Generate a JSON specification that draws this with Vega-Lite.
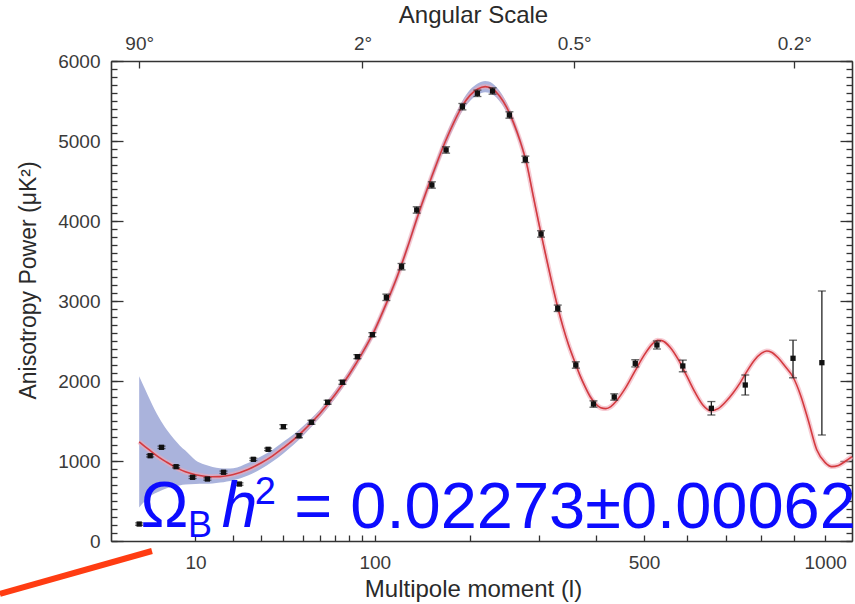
{
"$schema":"https://vega.github.io/schema/vega-lite/v6.json",
"width":741,"height":480,
"autosize":{"type":"none"},
"padding":{"left":111,"top":61,"right":3,"bottom":63},
"background":"white",
"config":{
 "view":{"stroke":null},
 "font":"Liberation Sans",
 "axis":{"grid":false,"domainColor":"#333333","domainWidth":1.6,"tickColor":"#333333","tickWidth":1.3,"labelColor":"#3a3a3a","labelFont":"Liberation Sans","labelFontSize":19,"titleFont":"Liberation Sans","titleFontSize":24,"titleFontWeight":"normal","titleColor":"#2a2a2a","labelFlush":false,"labelOverlap":false}
},
"datasets":{
 "band":[
  {"l":2,"lo":420,"hi":2060},{"l":2.5,"lo":500,"hi":1900},{"l":3,"lo":560,"hi":1760},{"l":4,"lo":620,"hi":1540},{"l":5,"lo":660,"hi":1390},{"l":6,"lo":680,"hi":1280},{"l":7,"lo":695,"hi":1195},{"l":8,"lo":705,"hi":1130},{"l":10,"lo":712,"hi":1010},{"l":12,"lo":715,"hi":955},{"l":14,"lo":720,"hi":925},{"l":16,"lo":730,"hi":910},{"l":18,"lo":745,"hi":905},{"l":20,"lo":760,"hi":910},{"l":25,"lo":820,"hi":975},{"l":30,"lo":900,"hi":1055},{"l":35,"lo":995,"hi":1140},{"l":40,"lo":1095,"hi":1240},{"l":45,"lo":1200,"hi":1330},{"l":50,"lo":1310,"hi":1430},{"l":60,"lo":1540,"hi":1640},{"l":70,"lo":1780,"hi":1880},{"l":80,"lo":2035,"hi":2135},{"l":90,"lo":2305,"hi":2405},{"l":100,"lo":2590,"hi":2690},
  {"l":110,"lo":2920,"hi":3020},{"l":120,"lo":3260,"hi":3360},{"l":130,"lo":3630,"hi":3730},{"l":140,"lo":4005,"hi":4115},{"l":150,"lo":4345,"hi":4455},{"l":160,"lo":4650,"hi":4770},{"l":170,"lo":4925,"hi":5055},{"l":180,"lo":5165,"hi":5295},{"l":190,"lo":5365,"hi":5495},{"l":200,"lo":5500,"hi":5640},{"l":210,"lo":5580,"hi":5720},{"l":220,"lo":5610,"hi":5750},{"l":230,"lo":5580,"hi":5720},{"l":240,"lo":5495,"hi":5625},{"l":250,"lo":5360,"hi":5480},{"l":260,"lo":5175,"hi":5285},{"l":270,"lo":4950,"hi":5050},{"l":280,"lo":4670,"hi":4770},{"l":290,"lo":4285,"hi":4375},{"l":300,"lo":3910,"hi":3990},{"l":320,"lo":3225,"hi":3295},{"l":340,"lo":2650,"hi":2710},{"l":360,"lo":2235,"hi":2285},{"l":380,"lo":1910,"hi":1950},{"l":400,"lo":1700,"hi":1730}
 ],
 "theory":[
  {"l":2,"cl":1240},{"l":2.5,"cl":1180},{"l":3,"cl":1130},{"l":4,"cl":1045},{"l":5,"cl":985},{"l":6,"cl":935},{"l":7,"cl":895},{"l":8,"cl":865},{"l":10,"cl":828},{"l":12,"cl":810},{"l":14,"cl":803},{"l":16,"cl":805},{"l":18,"cl":815},{"l":20,"cl":832},{"l":25,"cl":895},{"l":30,"cl":975},{"l":35,"cl":1065},{"l":40,"cl":1165},{"l":45,"cl":1265},{"l":50,"cl":1370},{"l":60,"cl":1590},{"l":70,"cl":1830},{"l":80,"cl":2085},{"l":90,"cl":2355},{"l":100,"cl":2640},{"l":110,"cl":2970},{"l":120,"cl":3310},{"l":130,"cl":3680},{"l":140,"cl":4060},{"l":150,"cl":4400},{"l":160,"cl":4710},{"l":170,"cl":4990},{"l":180,"cl":5230},{"l":190,"cl":5430},{"l":200,"cl":5570},{"l":210,"cl":5650},{"l":220,"cl":5680},{"l":230,"cl":5650},{"l":240,"cl":5560},{"l":250,"cl":5420},{"l":260,"cl":5230},{"l":270,"cl":5000},{"l":280,"cl":4720},{"l":290,"cl":4330},{"l":300,"cl":3950},{"l":310,"cl":3600},{"l":320,"cl":3260},{"l":330,"cl":2950},{"l":340,"cl":2680},{"l":350,"cl":2450},{"l":360,"cl":2260},{"l":370,"cl":2080},{"l":380,"cl":1930},{"l":390,"cl":1800},{"l":400,"cl":1715},{"l":410,"cl":1665},{"l":420,"cl":1655},{"l":430,"cl":1680},{"l":440,"cl":1740},{"l":450,"cl":1820},{"l":460,"cl":1910},{"l":480,"cl":2120},{"l":500,"cl":2320},{"l":520,"cl":2470},{"l":530,"cl":2510},{"l":540,"cl":2505},{"l":560,"cl":2420},{"l":580,"cl":2260},{"l":600,"cl":2060},{"l":620,"cl":1860},{"l":640,"cl":1700},{"l":660,"cl":1628},{"l":680,"cl":1655},{"l":700,"cl":1740},{"l":720,"cl":1850},{"l":740,"cl":1980},{"l":760,"cl":2130},{"l":780,"cl":2260},{"l":800,"cl":2345},{"l":816,"cl":2375},{"l":830,"cl":2360},{"l":850,"cl":2290},{"l":870,"cl":2190},{"l":896,"cl":2050},{"l":920,"cl":1820},{"l":945,"cl":1500},{"l":972,"cl":1140},{"l":1000,"cl":980},{"l":1022,"cl":930},{"l":1045,"cl":945},{"l":1070,"cl":1000},{"l":1092,"cl":1055}
 ],
 "wmap":[
  {"l":2,"v":212,"lo":197,"hi":227},{"l":3,"v":1066,"lo":1051,"hi":1081},{"l":4.3,"v":1171,"lo":1156,"hi":1186},{"l":6.4,"v":929,"lo":914,"hi":944},{"l":9.4,"v":796,"lo":781,"hi":811},{"l":12.7,"v":775,"lo":760,"hi":790},{"l":17,"v":859,"lo":844,"hi":874},{"l":22,"v":712,"lo":697,"hi":727},{"l":27,"v":1021,"lo":1006,"hi":1036},{"l":33,"v":1146,"lo":1131,"hi":1161},{"l":40,"v":1429,"lo":1404,"hi":1454},{"l":48,"v":1316,"lo":1291,"hi":1341},{"l":55,"v":1484,"lo":1459,"hi":1509},{"l":65,"v":1734,"lo":1709,"hi":1759},{"l":75,"v":1984,"lo":1959,"hi":2009},{"l":86,"v":2304,"lo":2279,"hi":2329},{"l":98,"v":2579,"lo":2554,"hi":2604},{"l":110,"v":3046,"lo":3006,"hi":3086},{"l":124,"v":3429,"lo":3389,"hi":3469},{"l":139,"v":4138,"lo":4098,"hi":4178},{"l":155,"v":4450,"lo":4410,"hi":4490},{"l":171,"v":4888,"lo":4848,"hi":4928},{"l":190.5,"v":5429,"lo":5389,"hi":5469},{"l":209.6,"v":5596,"lo":5556,"hi":5636},{"l":230,"v":5625,"lo":5585,"hi":5665},{"l":254,"v":5325,"lo":5285,"hi":5365},{"l":278,"v":4771,"lo":4731,"hi":4811},{"l":303,"v":3838,"lo":3798,"hi":3878},{"l":331,"v":2909,"lo":2869,"hi":2949},{"l":363,"v":2200,"lo":2160,"hi":2240},{"l":396,"v":1712,"lo":1672,"hi":1752},{"l":437,"v":1800,"lo":1760,"hi":1840},{"l":481,"v":2221,"lo":2176,"hi":2266},{"l":529,"v":2450,"lo":2400,"hi":2500},{"l":590,"v":2188,"lo":2115,"hi":2261},{"l":662,"v":1659,"lo":1575,"hi":1743},{"l":754,"v":1950,"lo":1825,"hi":2075},{"l":896,"v":2284,"lo":2040,"hi":2510},{"l":989,"v":2229,"lo":1325,"hi":3125}
 ]
},
"layer":[
 {"data":{"name":"band"},
  "mark":{"type":"area","color":"#aab3dc","opacity":1,"interpolate":"monotone"},
  "encoding":{
   "x":{"field":"l","type":"quantitative","scale":{"type":"pow","exponent":0.4,"domain":[0.444,1092],"nice":false,"zero":false},
        "axis":{"orient":"bottom","title":"Multipole moment (l)","values":[10,20,30,40,50,60,70,80,90,100,200,300,400,500,600,700,800,900,1000],"format":"d","labelExpr":"datum.value == 10 || datum.value == 100 || datum.value == 500 || datum.value == 1000 ? datum.label : ''","tickSize":-6,"labelPadding":18,"titlePadding":5,"titleX":362}},
   "y":{"field":"lo","type":"quantitative","scale":{"domain":[0,6000],"nice":false,"zero":false},
        "axis":{"orient":"left","title":"Anisotropy Power (μK²)","titleFontSize":23,"titleY":219,"values":[0,1000,2000,3000,4000,5000,6000],"format":"d","tickSize":-12,"labelPadding":23,"titlePadding":17}},
   "y2":{"field":"hi"}
  }},
 {"data":{"name":"theory"},
  "mark":{"type":"line","color":"#f0a8b6","strokeWidth":5,"opacity":0.6,"interpolate":"monotone"},
  "encoding":{
   "x":{"field":"l","type":"quantitative","scale":{"type":"pow","exponent":0.4,"domain":[0.444,1092],"nice":false,"zero":false},
        "axis":{"orient":"top","title":"Angular Scale","titleX":362,"values":[2,90,360,900],"labelExpr":"datum.value == 2 ? '90°' : datum.value == 90 ? '2°' : datum.value == 360 ? '0.5°' : '0.2°'","tickSize":-7,"labelPadding":15,"titlePadding":7}},
   "y":{"field":"cl","type":"quantitative","scale":{"domain":[0,6000],"nice":false,"zero":false},
        "axis":{"orient":"left","title":null,"labels":false,"domain":false,"tickSize":-6,"values":[0,100,200,300,400,500,600,700,800,900,1000,1100,1200,1300,1400,1500,1600,1700,1800,1900,2000,2100,2200,2300,2400,2500,2600,2700,2800,2900,3000,3100,3200,3300,3400,3500,3600,3700,3800,3900,4000,4100,4200,4300,4400,4500,4600,4700,4800,4900,5000,5100,5200,5300,5400,5500,5600,5700,5800,5900,6000]}}
  }},
 {"data":{"name":"theory"},
  "mark":{"type":"line","color":"#d43a3f","strokeWidth":1.6,"interpolate":"monotone"},
  "encoding":{
   "x":{"field":"l","type":"quantitative","scale":{"type":"pow","exponent":0.4,"domain":[0.444,1092],"nice":false,"zero":false},"axis":null},
   "y":{"field":"cl","type":"quantitative","scale":{"domain":[0,6000],"nice":false,"zero":false},
        "axis":{"orient":"right","title":null,"labels":false,"tickSize":-12,"values":[0,1000,2000,3000,4000,5000,6000]}}
  }},
 {"data":{"name":"wmap"},
  "mark":{"type":"rule","color":"#222222","strokeWidth":1.3},
  "encoding":{
   "x":{"field":"l","type":"quantitative","scale":{"type":"pow","exponent":0.4,"domain":[0.444,1092],"nice":false,"zero":false},"axis":null},
   "y":{"field":"lo","type":"quantitative","scale":{"domain":[0,6000],"nice":false,"zero":false},
        "axis":{"orient":"right","title":null,"labels":false,"domain":false,"tickSize":-6,"values":[0,100,200,300,400,500,600,700,800,900,1000,1100,1200,1300,1400,1500,1600,1700,1800,1900,2000,2100,2200,2300,2400,2500,2600,2700,2800,2900,3000,3100,3200,3300,3400,3500,3600,3700,3800,3900,4000,4100,4200,4300,4400,4500,4600,4700,4800,4900,5000,5100,5200,5300,5400,5500,5600,5700,5800,5900,6000]}},
   "y2":{"field":"hi"}
  }},
 {"data":{"name":"wmap"},
  "mark":{"type":"tick","orient":"horizontal","color":"#222222","size":8,"thickness":1.3},
  "encoding":{
   "x":{"field":"l","type":"quantitative","scale":{"type":"pow","exponent":0.4,"domain":[0.444,1092],"nice":false,"zero":false},"axis":null},
   "y":{"field":"lo","type":"quantitative","scale":{"domain":[0,6000],"nice":false,"zero":false},"axis":null}
  }},
 {"data":{"name":"wmap"},
  "mark":{"type":"tick","orient":"horizontal","color":"#222222","size":8,"thickness":1.3},
  "encoding":{
   "x":{"field":"l","type":"quantitative","scale":{"type":"pow","exponent":0.4,"domain":[0.444,1092],"nice":false,"zero":false},"axis":null},
   "y":{"field":"hi","type":"quantitative","scale":{"domain":[0,6000],"nice":false,"zero":false},"axis":null}
  }},
 {"data":{"name":"wmap"},
  "mark":{"type":"square","color":"#111111","filled":true,"opacity":1,"size":28},
  "encoding":{
   "x":{"field":"l","type":"quantitative","scale":{"type":"pow","exponent":0.4,"domain":[0.444,1092],"nice":false,"zero":false},"axis":null},
   "y":{"field":"v","type":"quantitative","scale":{"domain":[0,6000],"nice":false,"zero":false},"axis":null}
  }},
 {"data":{"values":[{"l":2.1,"v":175,"t":"Ω"}]},
  "mark":{"type":"text","font":"Liberation Sans","fontSize":64,"color":"#0c0cff","align":"left","baseline":"alphabetic"},
  "encoding":{
   "x":{"field":"l","type":"quantitative","scale":{"type":"pow","exponent":0.4,"domain":[0.444,1092],"nice":false,"zero":false},"axis":null},
   "y":{"field":"v","type":"quantitative","scale":{"domain":[0,6000],"nice":false,"zero":false},"axis":null},
   "text":{"field":"t"}
  }},
 {"data":{"values":[{"l":8.5,"v":50,"t":"B"}]},
  "mark":{"type":"text","font":"Liberation Sans","fontSize":36,"color":"#0c0cff","align":"left","baseline":"alphabetic"},
  "encoding":{
   "x":{"field":"l","type":"quantitative","scale":{"type":"pow","exponent":0.4,"domain":[0.444,1092],"nice":false,"zero":false},"axis":null},
   "y":{"field":"v","type":"quantitative","scale":{"domain":[0,6000],"nice":false,"zero":false},"axis":null},
   "text":{"field":"t"}
  }},
 {"data":{"values":[{"l":16.5,"v":175,"t":"h"}]},
  "mark":{"type":"text","font":"Liberation Sans","fontSize":64,"fontStyle":"italic","color":"#0c0cff","align":"left","baseline":"alphabetic"},
  "encoding":{
   "x":{"field":"l","type":"quantitative","scale":{"type":"pow","exponent":0.4,"domain":[0.444,1092],"nice":false,"zero":false},"axis":null},
   "y":{"field":"v","type":"quantitative","scale":{"domain":[0,6000],"nice":false,"zero":false},"axis":null},
   "text":{"field":"t"}
  }},
 {"data":{"values":[{"l":27.5,"v":462,"t":"2"}]},
  "mark":{"type":"text","font":"Liberation Sans","fontSize":38,"color":"#0c0cff","align":"left","baseline":"alphabetic"},
  "encoding":{
   "x":{"field":"l","type":"quantitative","scale":{"type":"pow","exponent":0.4,"domain":[0.444,1092],"nice":false,"zero":false},"axis":null},
   "y":{"field":"v","type":"quantitative","scale":{"domain":[0,6000],"nice":false,"zero":false},"axis":null},
   "text":{"field":"t"}
  }},
 {"data":{"values":[{"l":45.5,"v":163,"t":"= 0.02273±0.00062"}]},
  "mark":{"type":"text","font":"Liberation Sans","fontSize":65,"color":"#0c0cff","align":"left","baseline":"alphabetic"},
  "encoding":{
   "x":{"field":"l","type":"quantitative","scale":{"type":"pow","exponent":0.4,"domain":[0.444,1092],"nice":false,"zero":false},"axis":null},
   "y":{"field":"v","type":"quantitative","scale":{"domain":[0,6000],"nice":false,"zero":false},"axis":null},
   "text":{"field":"t"}
  }},
 {"data":{"values":[{"l":-3.39,"v":-662,"l2":3.19,"v2":-125}]},
  "mark":{"type":"rule","color":"#ff3c12","strokeWidth":6,"strokeCap":"butt"},
  "encoding":{
   "x":{"field":"l","type":"quantitative","scale":{"type":"pow","exponent":0.4,"domain":[0.444,1092],"nice":false,"zero":false},"axis":null},
   "x2":{"field":"l2"},
   "y":{"field":"v","type":"quantitative","scale":{"domain":[0,6000],"nice":false,"zero":false},"axis":null},
   "y2":{"field":"v2"}
  }}
],
"resolve":{"axis":{"x":"independent","y":"independent"}}
}
